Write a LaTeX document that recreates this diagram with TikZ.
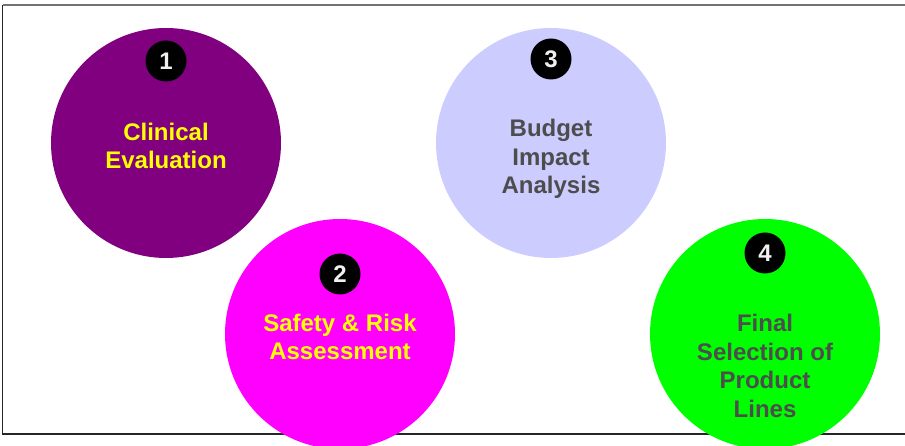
\documentclass[tikz,border=0pt]{standalone}
\usepackage{xcolor}
\usepackage{tikz}
\usepackage{fontspec}
\setmainfont{Liberation Sans}
\definecolor{stepPurple}{HTML}{800080}
\definecolor{stepMagenta}{HTML}{FF00FF}
\definecolor{stepLavender}{HTML}{CCCCFF}
\definecolor{stepGreen}{HTML}{00FF00}
\definecolor{stepGray}{HTML}{4D4D4D}
\definecolor{stepYellow}{HTML}{FFFF00}

\begin{document}
\begin{tikzpicture}[x=1pt,y=-1pt,%
% common options for the big circles:
stage/.style = {circle, minimum size=230pt, inner sep=0},
% common options for the texts in the circles:
caption/.style = {align=center, inner sep=0,
            font=\fontsize{24}{28.5}\selectfont\bfseries},
% common options for the numbers:
badge/.style = {circle, fill=black, minimum size=41pt, inner sep=0,
            text=white!94!black, font=\fontsize{24}{24}\selectfont\bfseries}]
\useasboundingbox (0,0) rectangle (905,446);
\draw[line width=1.5pt, black!55] (2.5,5) -- (905,5);
\draw[line width=1.2pt, black!85] (2.5,5) -- (2.5,434) -- (905,434);
\node[stage,fill=stepPurple] (S1) at (166,143) {};
\node[stage,fill=stepMagenta] (S2) at (340,334) {};
\node[stage,fill=stepLavender] (S3) at (551,143) {};
\node[stage,fill=stepGreen] (S4) at (765,334) {};
\node[caption,text=stepYellow] (L1) at (166,146) {Clinical\\Evaluation};
\node[caption,text=stepYellow] (L2) at (340,337) {Safety \& Risk\\Assessment};
\node[caption,text=stepGray] (L3) at (551,159) {Budget\\Impact\\Analysis};
\node[caption,text=stepGray] (L4) at (765,366) {Final\\Selection of\\Product\\Lines};
\node[badge] (N1) at (166,61) {1};
\node[badge] (N2) at (340,274) {2};
\node[badge] (N3) at (551,59) {3};
\node[badge] (N4) at (765,253) {4};
\end{tikzpicture}
\end{document}
